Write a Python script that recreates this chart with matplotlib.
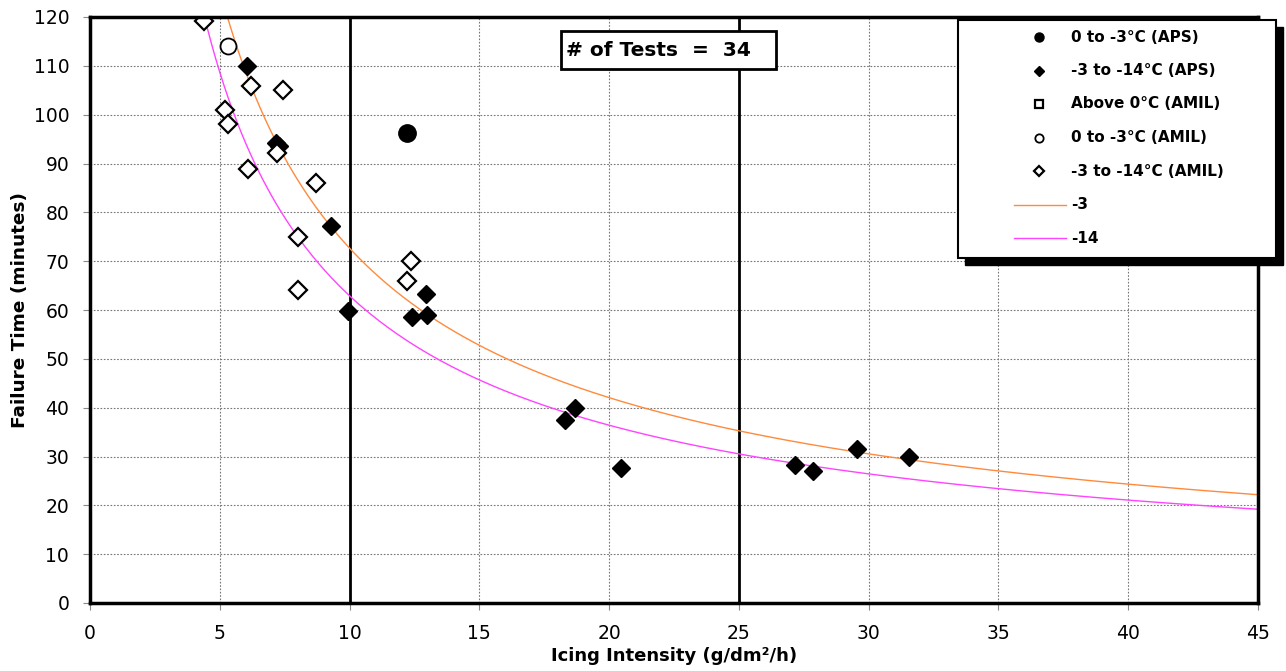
import matplotlib.pyplot as plt
import numpy as np
from matplotlib.patches import Rectangle
from matplotlib.lines import Line2D

plt.rcParams['font.family'] = ['DejaVu Sans']

# APS results
aps_circle_x = [12.2]
aps_circle_y = [96.2]
aps_diamond_x = [6.05, 7.15, 7.3, 9.3, 9.95, 12.4, 12.95, 13.0, 18.3, 18.7, 20.45, 27.15, 27.85, 29.55, 31.55]
aps_diamond_y = [110.0, 94.2, 93.5, 77.2, 59.8, 58.6, 63.2, 59.0, 37.5, 40.0, 27.6, 28.3, 27.0, 31.6, 30.0]

# AMIL results
amil_square_x = []
amil_square_y = []
amil_circle_x = [5.3]
amil_circle_y = [114.0]
amil_diamond_x = [4.4, 6.2, 7.45, 5.2, 5.3, 7.2, 6.1, 8.7, 8.0, 8.0, 12.35, 12.2]
amil_diamond_y = [119.2, 105.9, 105.1, 101.0, 98.1, 92.2, 88.9, 86.0, 75.0, 64.0, 70.0, 65.9]

# power-law trend lines  t = a * I**b
trend_labels = ['-3', '-14']
trend_a = [447.0, 387.0]
trend_b = [-0.789, -0.789]
trend_colors = ['#ff8a3d', '#ff44ff']

x_ticks = list(range(0, 50, 5))
y_ticks = list(range(0, 130, 10))

W, H = 1286, 671
fig = plt.figure(figsize=(W / 100, H / 100), dpi=100)
ax = fig.add_axes([90 / W, 1 - 603 / H, 1168 / W, 586 / H])

ax.set_xlim(0, 45)
ax.set_ylim(0, 120)
ax.set_xticks(x_ticks)
ax.set_yticks(y_ticks)

# dotted grid, with solid bold lines at 10 and 25
for xv in x_ticks:
    if xv in (10, 25):
        ax.axvline(xv, color='black', lw=2.0, zorder=1)
    elif 0 < xv < 45:
        ax.axvline(xv, color='#777777', lw=0.8, ls=(0, (1.5, 1.5)), zorder=0.5)
for yv in y_ticks[1:-1]:
    ax.axhline(yv, color='#777777', lw=0.8, ls=(0, (1.5, 1.5)), zorder=0.5)

series = [
    ('0 to -3\u00b0C (APS)', aps_circle_x, aps_circle_y,
     dict(marker='o', markerfacecolor='black', markeredgewidth=1.0), 12.5, 6.5),
    ('-3 to -14\u00b0C (APS)', aps_diamond_x, aps_diamond_y,
     dict(marker='D', markerfacecolor='black', markeredgewidth=1.0), 9.5, 5.0),
    ('Above 0\u00b0C (AMIL)', amil_square_x, amil_square_y,
     dict(marker='s', markerfacecolor='white', markeredgewidth=1.6), 10, 5.5),
    ('0 to -3\u00b0C (AMIL)', amil_circle_x, amil_circle_y,
     dict(marker='o', markerfacecolor='white', markeredgewidth=1.3), 11.5, 6.0),
    ('-3 to -14\u00b0C (AMIL)', amil_diamond_x, amil_diamond_y,
     dict(marker='D', markerfacecolor='white', markeredgewidth=1.6), 9.0, 5.0),
]
for lab, xs_, ys_, st, ms, lms in series:
    ax.plot(xs_, ys_, ls='none', markeredgecolor='black', markersize=ms, label=lab,
            zorder=4, **st)

xs = np.linspace(3.5, 45, 500)
for lab, a, b, c in zip(trend_labels, trend_a, trend_b, trend_colors):
    ax.plot(xs, a * xs ** b, color=c, lw=1.0, label=lab, zorder=3)

for sp in ax.spines.values():
    sp.set_linewidth(2.5)
    sp.set_color('black')
    sp.set_zorder(5)

ax.tick_params(axis='both', direction='out', length=5, width=0.8, color='#888888',
               labelsize=13.5)
ax.tick_params(axis='x', pad=10)
ax.tick_params(axis='y', pad=10)
ax.set_xlabel('Icing Intensity (g/dm\u00b2/h)', fontsize=13, fontweight='bold', labelpad=3)
ax.set_ylabel('Failure Time (minutes)', fontsize=13.3, fontweight='bold', labelpad=3)

# "# of Tests" box
ax.add_patch(Rectangle((471 / 1168, 534 / 586), 215 / 1168, 38 / 586, transform=ax.transAxes,
                       facecolor='white', edgecolor='black', lw=2.0, zorder=6))
ax.text(476 / 1168, 553 / 586, '# of Tests  =  34', transform=ax.transAxes, fontsize=14.5,
        fontweight='bold', va='center', ha='left', zorder=7)


# legend box drawn on the figure (pixel positions from the top-left corner)
def fx(px):
    return px / W


def fy(py):
    return 1 - py / H


fig.add_artist(Rectangle((fx(965), fy(265)), 318 / W, 238 / H, transform=fig.transFigure,
                         facecolor='black', edgecolor='black', zorder=2))
fig.add_artist(Rectangle((fx(958), fy(258)), 318 / W, 238 / H, transform=fig.transFigure,
                         facecolor='white', edgecolor='black', lw=1.5, zorder=3))

row_y = 37
for lab, xs_, ys_, st, ms, lms in series:
    fig.add_artist(Line2D([fx(1039)], [fy(row_y)], ls='none', markeredgecolor='black',
                          markersize=lms, transform=fig.transFigure, zorder=4, **st))
    fig.text(fx(1071), fy(row_y), lab, fontsize=11, fontweight='bold', va='center',
             ha='left', zorder=4)
    row_y += 33.5
for lab, c in zip(trend_labels, trend_colors):
    fig.add_artist(Line2D([fx(1014), fx(1066)], [fy(row_y), fy(row_y)], color=c, lw=1.0,
                          transform=fig.transFigure, zorder=4))
    fig.text(fx(1071), fy(row_y), lab, fontsize=11, fontweight='bold', va='center',
             ha='left', zorder=4)
    row_y += 33.5

fig.savefig('out.png', dpi=100)
